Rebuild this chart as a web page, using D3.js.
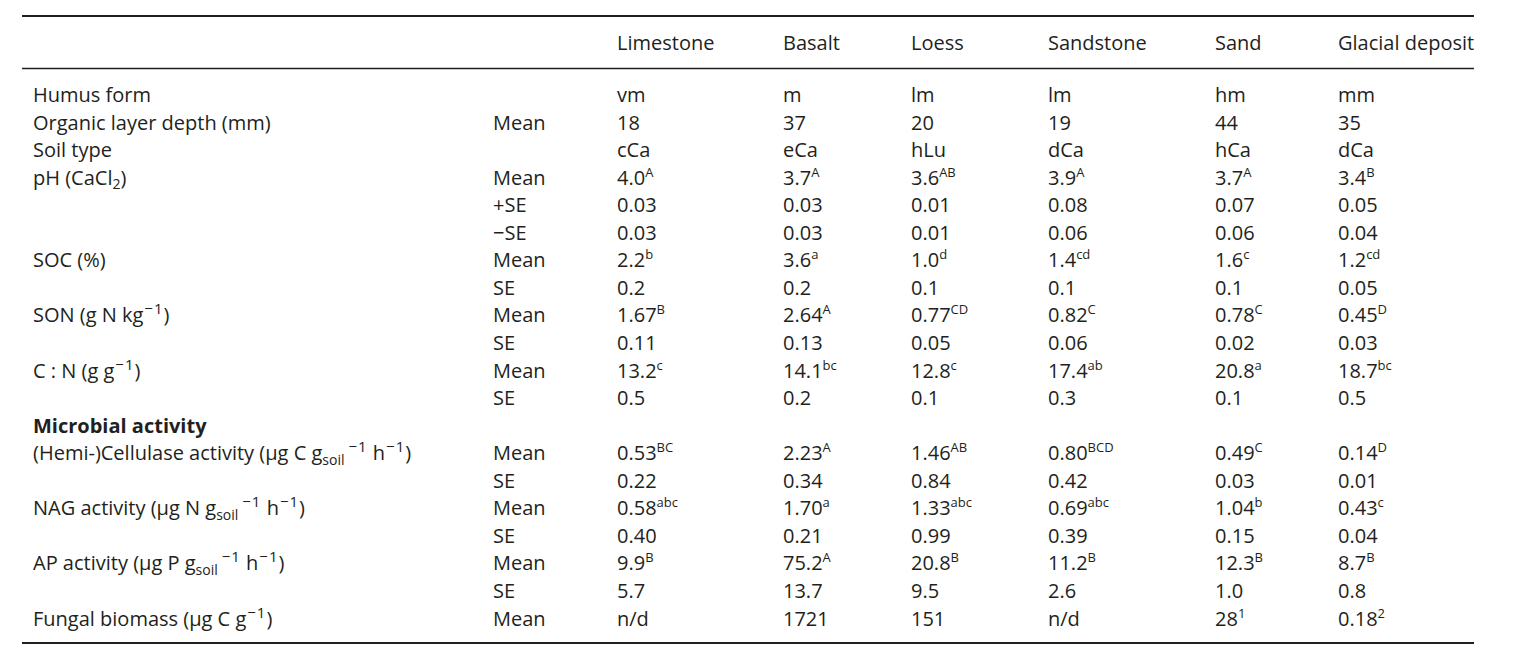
<!DOCTYPE html>
<html><head><meta charset="utf-8">
<script src="https://cdn.jsdelivr.net/npm/d3@7"></script>
<style>html,body{margin:0;padding:0;background:#fff;}svg{display:block;}</style>
</head><body>
<svg id="chart" width="1514" height="654"></svg>
<script>
// ---- data ----
const columns = ["Limestone", "Basalt", "Loess", "Sandstone", "Sand", "Glacial deposit"];
const rowLabels = [
  "Humus form",
  "Organic layer depth (mm)",
  "Soil type",
  "pH (CaCl_{2})",
  "",
  "",
  "SOC (%)",
  "",
  "SON (g N kg^{−1})",
  "",
  "C : N (g g^{−1})",
  "",
  "Microbial activity",
  "(Hemi-)Cellulase activity (µg C g_{soil}^{−1} h^{−1})",
  "",
  "NAG activity (µg N g_{soil}^{−1} h^{−1})",
  "",
  "AP activity (µg P g_{soil}^{−1} h^{−1})",
  "",
  "Fungal biomass (µg C g^{−1})"
];
const boldRows = ["Microbial activity"];
const statLabels = ["", "Mean", "", "Mean", "+SE", "−SE", "Mean", "SE", "Mean", "SE", "Mean", "SE", "", "Mean", "SE", "Mean", "SE", "Mean", "SE", "Mean"];
const humusForm   = ["vm", "m", "lm", "lm", "hm", "mm"];
const organicDepth = ["18", "37", "20", "19", "44", "35"];
const soilType    = ["cCa", "eCa", "hLu", "dCa", "hCa", "dCa"];
const phMean      = ["4.0^{A}", "3.7^{A}", "3.6^{AB}", "3.9^{A}", "3.7^{A}", "3.4^{B}"];
const phPlusSE    = ["0.03", "0.03", "0.01", "0.08", "0.07", "0.05"];
const phMinusSE   = ["0.03", "0.03", "0.01", "0.06", "0.06", "0.04"];
const socMean     = ["2.2^{b}", "3.6^{a}", "1.0^{d}", "1.4^{cd}", "1.6^{c}", "1.2^{cd}"];
const socSE       = ["0.2", "0.2", "0.1", "0.1", "0.1", "0.05"];
const sonMean     = ["1.67^{B}", "2.64^{A}", "0.77^{CD}", "0.82^{C}", "0.78^{C}", "0.45^{D}"];
const sonSE       = ["0.11", "0.13", "0.05", "0.06", "0.02", "0.03"];
const cnMean      = ["13.2^{c}", "14.1^{bc}", "12.8^{c}", "17.4^{ab}", "20.8^{a}", "18.7^{bc}"];
const cnSE        = ["0.5", "0.2", "0.1", "0.3", "0.1", "0.5"];
const microbial   = ["", "", "", "", "", ""];
const cellMean    = ["0.53^{BC}", "2.23^{A}", "1.46^{AB}", "0.80^{BCD}", "0.49^{C}", "0.14^{D}"];
const cellSE      = ["0.22", "0.34", "0.84", "0.42", "0.03", "0.01"];
const nagMean     = ["0.58^{abc}", "1.70^{a}", "1.33^{abc}", "0.69^{abc}", "1.04^{b}", "0.43^{c}"];
const nagSE       = ["0.40", "0.21", "0.99", "0.39", "0.15", "0.04"];
const apMean      = ["9.9^{B}", "75.2^{A}", "20.8^{B}", "11.2^{B}", "12.3^{B}", "8.7^{B}"];
const apSE        = ["5.7", "13.7", "9.5", "2.6", "1.0", "0.8"];
const fungalMean  = ["n/d", "1721", "151", "n/d", "28^{1}", "0.18^{2}"];

const valueRows = [humusForm, organicDepth, soilType, phMean, phPlusSE, phMinusSE,
  socMean, socSE, sonMean, sonSE, cnMean, cnSE, microbial, cellMean, cellSE,
  nagMean, nagSE, apMean, apSE, fungalMean];

// ---- layout ----
const svg = d3.select("#chart");
const font = "'Open Sans', sans-serif";
const ink = "#231f20";
const fontSize = 20;
const xCol = d3.scaleOrdinal().domain(columns).range([617, 783, 911, 1048, 1215, 1338]);
const xLabel = 33, xStat = 493;
const yRow = d3.scaleLinear().domain([0, rowLabels.length - 1]).range([102, 625.5]);
const yHeader = 50;
const left = 22, right = 1474;

function rich(sel, str) {
  const parts = str.split(/(\^\{[^}]*\}|_\{[^}]*\})/).filter(s => s.length);
  let cur = 0, prevSub = false;
  parts.forEach(p => {
    let txt = p, shift = 0, size = null, dx = 0, ls = null;
    const isSup = p.startsWith("^{"), isSub = p.startsWith("_{");
    if (isSup) {
      txt = p.slice(2, -1);
      if (txt.startsWith("−")) { size = 15; shift = -8; dx = prevSub ? 4 : 1; ls = 1; }
      else { size = 13; shift = -8; }
    } else if (isSub) {
      txt = p.slice(2, -1); shift = 4.5; size = 14;
    }
    const t = sel.append("tspan").text(txt).attr("dy", shift - cur);
    if (dx) t.attr("dx", dx);
    if (size) t.attr("font-size", size);
    if (ls) t.attr("letter-spacing", ls);
    cur = shift;
    prevSub = isSub;
  });
}

// rules
svg.append("line").attr("x1", left).attr("x2", right).attr("y1", 16).attr("y2", 16)
  .attr("stroke", ink).attr("stroke-width", 2);
svg.append("line").attr("x1", left).attr("x2", right).attr("y1", 68.5).attr("y2", 68.5)
  .attr("stroke", ink).attr("stroke-width", 1.3);
svg.append("line").attr("x1", left).attr("x2", right).attr("y1", 643).attr("y2", 643)
  .attr("stroke", ink).attr("stroke-width", 2);

// header
svg.append("g").selectAll("text").data(columns).join("text")
  .attr("x", d => xCol(d)).attr("y", yHeader)
  .attr("font-family", font).attr("font-size", fontSize).attr("fill", ink)
  .text(d => d);

// row labels
svg.append("g").selectAll("text").data(rowLabels).join("text")
  .attr("x", xLabel).attr("y", (d, i) => yRow(i))
  .attr("font-family", font).attr("font-size", fontSize).attr("fill", ink)
  .attr("font-weight", d => boldRows.includes(d) ? "bold" : "normal")
  .each(function(d) { rich(d3.select(this), d); });

// stat labels
svg.append("g").selectAll("text").data(statLabels).join("text")
  .attr("x", xStat).attr("y", (d, i) => yRow(i))
  .attr("font-family", font).attr("font-size", fontSize).attr("fill", ink)
  .text(d => d);

// values
const cells = [];
valueRows.forEach((row, i) => row.forEach((v, j) => { if (v) cells.push({ i, col: columns[j], v }); }));
svg.append("g").selectAll("text").data(cells).join("text")
  .attr("x", d => xCol(d.col)).attr("y", d => yRow(d.i))
  .attr("font-family", font).attr("font-size", fontSize).attr("fill", ink)
  .each(function(d) { rich(d3.select(this), d.v); });
</script>
</body></html>
